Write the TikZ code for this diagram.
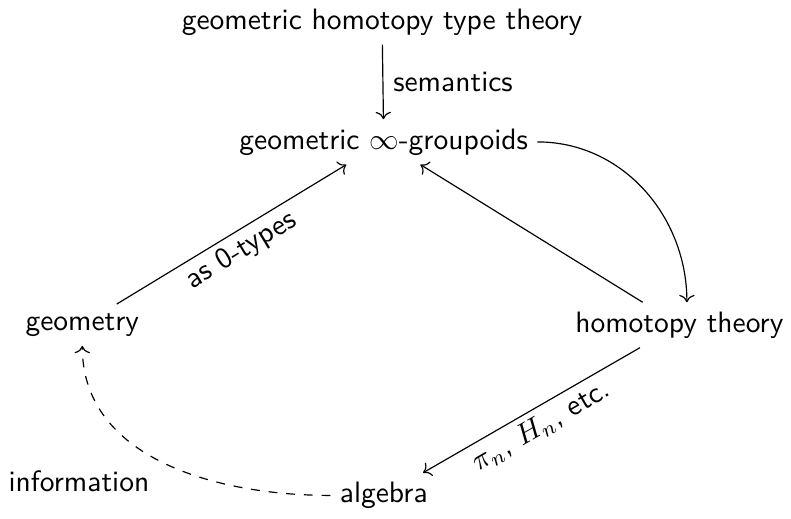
\documentclass[tikz,border=0pt]{standalone}
\usetikzlibrary{arrows.meta, positioning}
\tikzset{
  every picture/.style={font=\sffamily, line width=0.4pt},
  obj/.style={inner sep=3pt},
  arrow/.style={->},
  dasharrow/.style={->, dashed},
  lbl/.style={font=\sffamily},
}
\begin{document}
\begin{tikzpicture}
  \useasboundingbox (0,0) rectangle (9.42,6.17);
  % objects
  \node[obj] (hott) at (4.55,5.91) {geometric homotopy type theory};
  \node[obj] (ggrp) at (4.57,4.48) {geometric $\infty$-groupoids};
  \node[obj] (geom) at (0.98,2.30) {geometry};
  \node[obj] (htpy) at (8.09,2.30) {homotopy theory};
  \node[obj] (alg) at (4.57,0.27) {algebra};
  \node[lbl] (info) at (0.94,0.44) {information};
  \coordinate (htop) at ([xshift=0.09cm]htpy.north);
  % maps
  \draw[arrow] (hott) -- node[right, lbl] {semantics} (ggrp);
  \draw[arrow] (geom) -- node[sloped, below, lbl, inner sep=2pt] {as 0-types} (ggrp);
  \draw[arrow] (htpy) -- (ggrp);
  \draw[arrow] (ggrp.east) to[out=0, in=90] (htop);
  \draw[arrow] (htpy) -- node[sloped, below, lbl, inner sep=2pt] {$\pi_n$, $H_n$, etc.} (alg);
  \draw[dasharrow] (alg.west) to[out=180, in=-90] (geom.south);
\end{tikzpicture}
\end{document}
